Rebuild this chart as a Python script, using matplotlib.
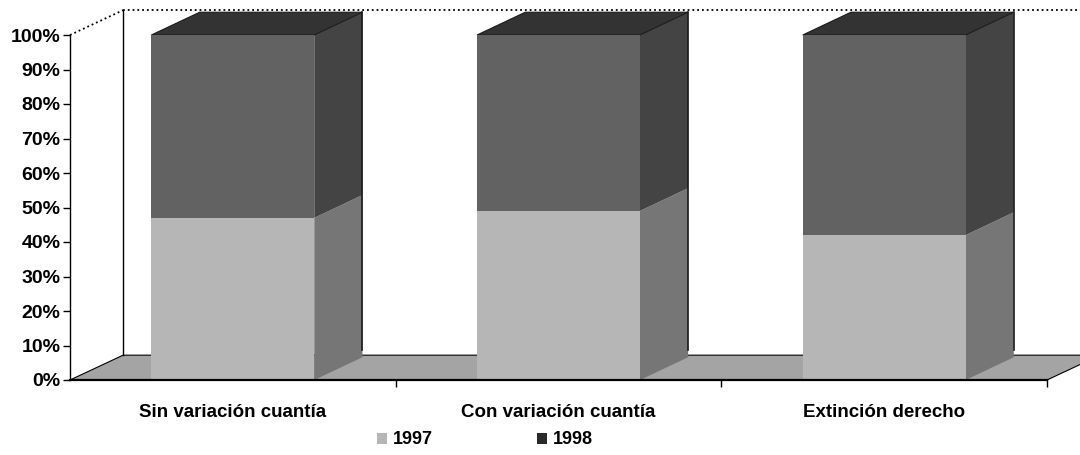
import matplotlib
matplotlib.use("Agg")
import matplotlib.pyplot as plt
from matplotlib.patches import Polygon, Patch

# data (share of each year within each category)
categories = ["Sin variación cuantía", "Con variación cuantía", "Extinción derecho"]
years = ["1997", "1998"]
share_1997 = [0.47, 0.49, 0.42]
share_1998 = [0.53, 0.51, 0.58]

plt.rcParams["font.family"] = ["Liberation Sans", "DejaVu Sans"]
plt.rcParams["font.weight"] = "bold"

# pseudo-3d look
bar_w = 0.5
bdx, bdy = 0.148, 0.066      # bar depth
fdx, fdy = 0.163, 0.072      # floor / wall depth

front = {"1997": "#b6b6b6", "1998": "#626262"}
side = {"1997": "#767676", "1998": "#444444"}
top_col = "#333333"
floor_col = "#a4a4a4"

fig = plt.figure(figsize=(10.8, 4.55), dpi=100)
ax = fig.add_axes([70 / 1080, 75 / 455, 977 / 1080, 345 / 455])
ax.set_xlim(-0.5, 2.5)
ax.set_ylim(0, 1)

# back wall edges
ax.plot([-0.5, -0.5 + fdx], [1, 1 + fdy], ls=":", color="black", lw=1.3, clip_on=False)
ax.plot([-0.5 + fdx, 2.5 + fdx + 0.2], [1 + fdy, 1 + fdy], ls=":", color="black", lw=1.3, clip_on=False)
ax.plot([-0.5 + fdx, -0.5 + fdx], [fdy, 1 + fdy], color="black", lw=1.0, clip_on=False)

# floor
floor = Polygon([(-0.5, 0), (2.5, 0), (2.5 + fdx, fdy), (-0.5 + fdx, fdy)],
                closed=True, facecolor=floor_col, edgecolor="black", lw=0.8,
                clip_on=False, zorder=1)
ax.add_patch(floor)

x = list(range(len(categories)))
ax.bar(x, share_1997, width=bar_w, color=front["1997"], zorder=3, label="1997")
ax.bar(x, share_1998, width=bar_w, bottom=share_1997, color=front["1998"], zorder=3, label="1998")

for i in x:
    x0, x1 = i - bar_w / 2, i + bar_w / 2
    segs = [("1997", 0, share_1997[i]), ("1998", share_1997[i], share_1997[i] + share_1998[i])]
    for yr, b, t in segs:
        ax.add_patch(Polygon([(x1, b), (x1 + bdx, b + bdy), (x1 + bdx, t + bdy), (x1, t)],
                             closed=True, facecolor=side[yr], edgecolor="none",
                             clip_on=False, zorder=2.5))
    t = share_1997[i] + share_1998[i]
    ax.add_patch(Polygon([(x0, t), (x0 + bdx, t + bdy), (x1 + bdx, t + bdy), (x1, t)],
                         closed=True, facecolor=top_col, edgecolor="#1a1a1a", lw=0.8,
                         clip_on=False, zorder=2.6))
    ax.plot([x1 + bdx, x1 + bdx], [bdy + 0.02, t + bdy], color="#1a1a1a", lw=1.2,
            clip_on=False, zorder=2.6)

# axes styling
for s in ["top", "right"]:
    ax.spines[s].set_visible(False)
ax.spines["left"].set_linewidth(1.0)
ax.spines["bottom"].set_linewidth(1.6)
ax.spines["bottom"].set_zorder(4)

ax.set_yticks([i / 10 for i in range(11)])
ax.set_yticklabels([f"{i * 10}%" for i in range(11)], fontsize=14, fontweight="bold")
ax.tick_params(axis="y", length=5, width=1, pad=2)

ax.set_xticks(x)
ax.set_xticklabels(categories, fontsize=13.5, fontweight="bold")
ax.set_xticks([0.5, 1.5, 2.5], minor=True)
ax.tick_params(axis="x", which="major", length=0, pad=17)
ax.tick_params(axis="x", which="minor", length=5, width=1)

handles = [Patch(facecolor=front["1997"], edgecolor="none"),
           Patch(facecolor="#2a2a2a", edgecolor="none")]
fig.legend(handles, years, loc="center", bbox_to_anchor=(0.449, 0.033), ncol=2,
           frameon=False, handlelength=0.55, handleheight=0.55,
           handletextpad=0.3, columnspacing=5.8, prop={"weight": "bold", "size": 13})

fig.savefig("out.png", dpi=100)
plt.close(fig)
